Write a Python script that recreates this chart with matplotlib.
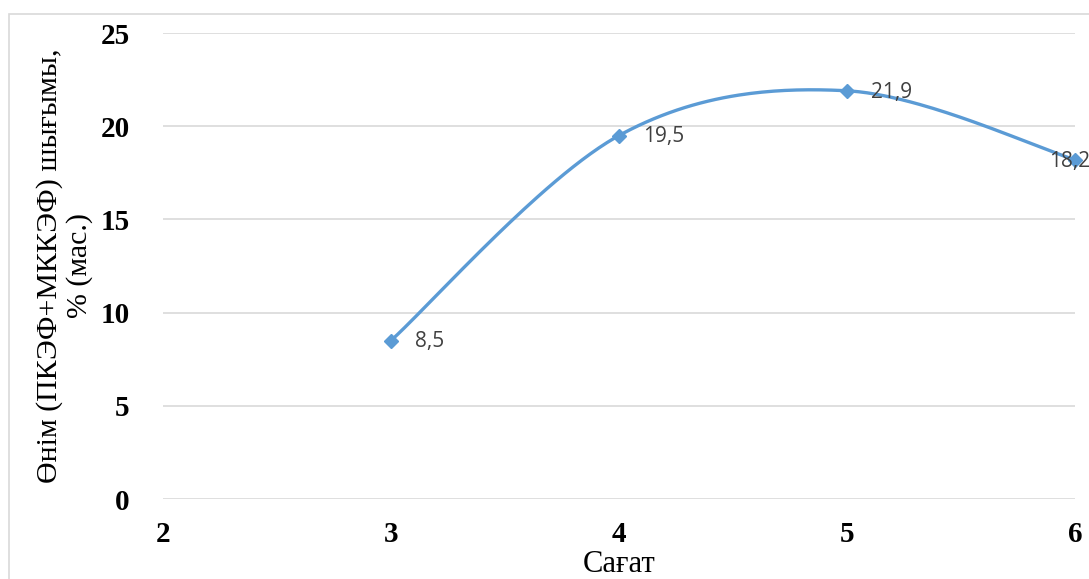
import numpy as np
import matplotlib.pyplot as plt
from matplotlib.patches import Rectangle

# data
hours = [3, 4, 5, 6]
yield_pct = [8.5, 19.5, 21.9, 18.2]
labels = ["8,5", "19,5", "21,9", "18,2"]
x_ticks = [2, 3, 4, 5, 6]
y_ticks = [0, 5, 10, 15, 20, 25]

line_color = "#5B9BD5"
grid_color = "#D9D9D9"
serif = ["Liberation Serif", "DejaVu Serif"]


def excel_smooth(x, y, n=60):
    """Bezier smoothing like Excel's 'smoothed line' option."""
    x = np.asarray(x, float)
    y = np.asarray(y, float)
    px = np.concatenate([[x[0]], x, [x[-1]]])
    py = np.concatenate([[y[0]], y, [y[-1]]])
    t = np.linspace(0, 1, n)[:, None]
    xs, ys = [], []
    for i in range(1, len(x)):
        p0 = np.array([px[i], py[i]])
        p3 = np.array([px[i + 1], py[i + 1]])
        c1 = p0 + (np.array([px[i + 1], py[i + 1]]) - np.array([px[i - 1], py[i - 1]])) / 6
        c2 = p3 - (np.array([px[i + 2], py[i + 2]]) - np.array([px[i], py[i]])) / 6
        pts = (1 - t) ** 3 * p0 + 3 * (1 - t) ** 2 * t * c1 + 3 * (1 - t) * t ** 2 * c2 + t ** 3 * p3
        xs.append(pts[:, 0])
        ys.append(pts[:, 1])
    return np.concatenate(xs), np.concatenate(ys)


fig = plt.figure(figsize=(10.89, 5.79), dpi=100)
ax = fig.add_axes([163 / 1089, 1 - 499 / 579, (1075 - 163) / 1089, (499 - 33) / 579])

# chart frame (runs off the right/bottom of the image)
top = 1 - 14 / 579
fig.patches.append(Rectangle((9 / 1089, -0.2), 1.2, top + 0.2,
                             transform=fig.transFigure, fill=False,
                             edgecolor=grid_color, linewidth=1.2))

sx, sy = excel_smooth(hours, yield_pct)
ax.plot(sx, sy, color=line_color, linewidth=2.4, solid_capstyle="round", clip_on=False)
ax.plot(hours, yield_pct, linestyle="none", marker="D", markersize=7.5,
        color=line_color, clip_on=False, zorder=3)

for i, (h, v, lab) in enumerate(zip(hours, yield_pct, labels)):
    dx = 17 if i < len(hours) - 1 else -19
    ax.annotate(lab, (h, v), xytext=(dx, -1), textcoords="offset points",
                ha="left", va="center", fontsize=15, color="#404040",
                family=["Open Sans", "DejaVu Sans"], annotation_clip=False)

ax.set_xlim(2, 6)
ax.set_ylim(0, 25)
ax.set_xticks(x_ticks)
ax.set_yticks(y_ticks)
ax.grid(axis="y", color=grid_color, linewidth=1.2)
ax.set_axisbelow(True)
for s in ax.spines.values():
    s.set_visible(False)
ax.tick_params(length=0)
ax.tick_params(axis="y", pad=24)
ax.tick_params(axis="x", pad=16)
for lab in ax.get_xticklabels() + ax.get_yticklabels():
    lab.set_fontfamily(serif)
    lab.set_fontweight("bold")
    lab.set_fontsize(21)

ax.set_ylabel("Өнім (ПКЭФ+МККЭФ) шығымы,\n% (мас.)", fontsize=21.5,
              family=serif, labelpad=5, linespacing=1.15)
ax.set_xlabel("Сағат", fontsize=22, family=serif, labelpad=1)

fig.savefig("out.png", dpi=100)
